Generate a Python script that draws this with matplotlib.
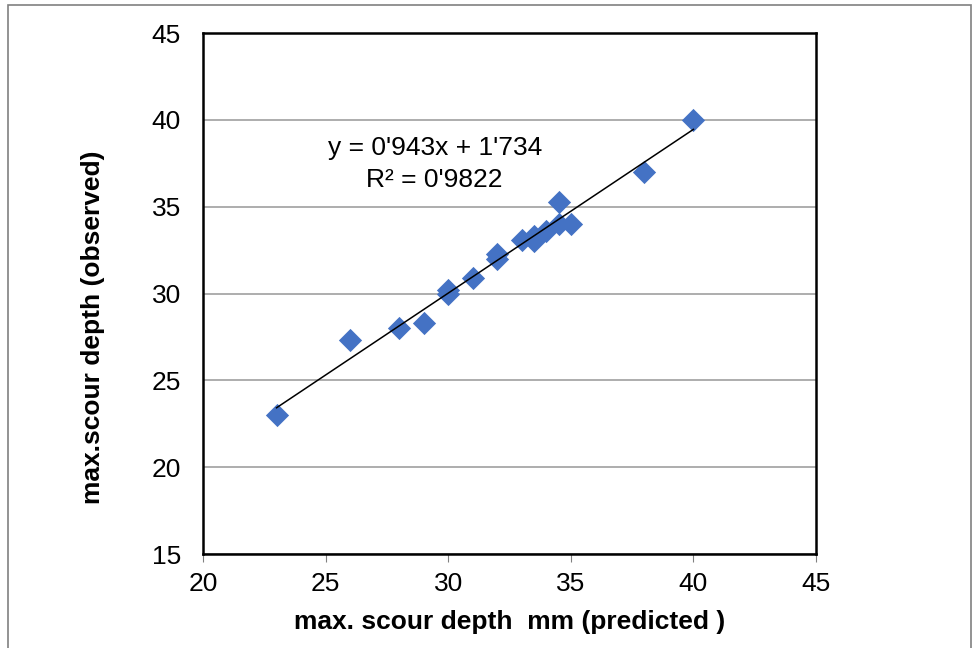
import matplotlib
matplotlib.use("Agg")
import matplotlib.pyplot as plt
from matplotlib.patches import Rectangle

plt.rcParams['font.family'] = ['Liberation Sans', 'DejaVu Sans']

# predicted vs observed max scour depth (mm)
predicted = [23, 26, 28, 29, 30, 30, 31, 32, 32, 33, 33.5, 33.5, 34, 34.5, 34.5, 35, 38, 40]
observed = [23, 27.3, 28, 28.3, 30, 30.2, 30.9, 32, 32.3, 33.1, 33.0, 33.3, 33.6, 34.0, 35.3, 34.0, 37, 40]

# linear trendline as printed on the chart
slope = 0.943
intercept = 1.734
r2_text = "0'9822"
eq_text = "0'943x + 1'734"

fig = plt.figure(figsize=(9.74, 6.48), dpi=100)
ax = fig.add_axes([0.2084, 0.145, 0.6294, 0.804])

# outer chart border
fig.patches.append(Rectangle((0.0082, -0.01), 0.9888, 1.0023, transform=fig.transFigure,
                             fill=False, edgecolor='#808080', linewidth=1.2))

ax.grid(axis='y', color='#a0a0a0', linewidth=1.2)
ax.set_axisbelow(True)

ax.scatter(predicted, observed, marker='D', s=140, color='#4472C4', zorder=3, linewidths=0)

x_fit = [min(predicted), max(predicted)]
y_fit = [slope * v + intercept for v in x_fit]
ax.plot(x_fit, y_fit, color='black', linewidth=1.1, zorder=4)

ax.text(29.45, 38.4, "y = " + eq_text, fontsize=19, ha='center', va='center')
ax.text(29.45, 36.55, "R² = " + r2_text, fontsize=19, ha='center', va='center')

ax.set_xlim(20, 45)
ax.set_ylim(15, 45)
ax.set_xticks(range(20, 46, 5))
ax.set_yticks(range(15, 46, 5))
ax.tick_params(axis='x', direction='out', length=6, color='#808080', labelsize=19, pad=7)
ax.tick_params(axis='y', length=0, labelsize=19, pad=16)

for sp in ax.spines.values():
    sp.set_linewidth(1.8)
    sp.set_color('black')

ax.set_xlabel("max. scour depth  mm (predicted )", fontsize=19, fontweight='bold', labelpad=10)
ax.set_ylabel("max.scour depth (observed)", fontsize=19, fontweight='bold')
ax.yaxis.set_label_coords(-0.16, 0.436)

fig.savefig("out.png", dpi=100)
